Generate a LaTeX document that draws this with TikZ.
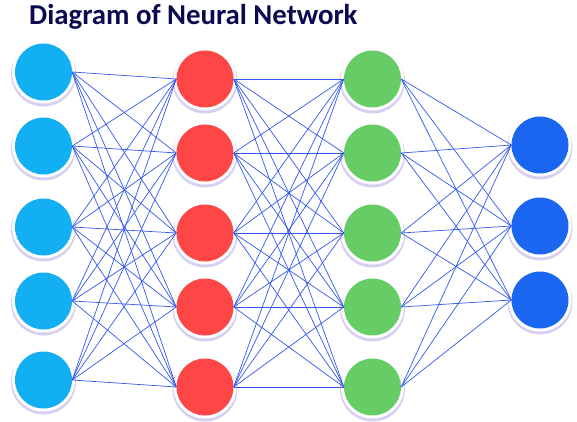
\documentclass[tikz,border=0pt]{standalone}
\usepackage{fontspec}
\setmainfont{Carlito}
\definecolor{cyanN}{HTML}{12B0F2}
\definecolor{redN}{HTML}{FF4646}
\definecolor{greenN}{HTML}{66CC66}
\definecolor{blueN}{HTML}{1A66F0}
\definecolor{edgeC}{HTML}{3358EE}
\definecolor{titleC}{HTML}{0A0A50}
\definecolor{shadowC}{HTML}{D6CFF2}
\begin{document}
\begin{tikzpicture}[x=1pt,y=-1pt,
  neuron/.style={circle,minimum size=57pt,inner sep=0pt,draw=none},
  edge/.style={edgeC,line width=0.7pt}]
\useasboundingbox (0,0) rectangle (577,422);
\fill[white] (0,0) rectangle (577,422);
\node[anchor=base west,text=titleC,font=\fontsize{28.8}{31}\selectfont\bfseries,inner sep=0pt] (title) at (29,25) {Diagram of Neural Network};
% layers
\def\drawneuron#1#2#3#4{%
  \fill[shadowC] (#2,#3+2) circle (32.5);
  \fill[white] (#2,#3) circle (31.5);
  \node[neuron,fill=#4] (#1) at (#2,#3) {};}
\foreach \y [count=\i] in {72,146,227,301,380} {\drawneuron{a\i}{43.5}{\y}{cyanN}}
\foreach \y [count=\i] in {79,153,233,307,387} {\drawneuron{b\i}{205}{\y}{redN}}
\foreach \y [count=\i] in {79,153,233,307,387} {\drawneuron{c\i}{372.5}{\y}{greenN}}
\foreach \y [count=\i] in {145,226,300} {\drawneuron{d\i}{540}{\y}{blueN}}
\foreach \i in {1,...,5} {\foreach \j in {1,...,5} {\draw[edge] (a\i.east) -- (b\j.west);}}
\foreach \i in {1,...,5} {\foreach \j in {1,...,5} {\draw[edge] (b\i.east) -- (c\j.west);}}
\foreach \i in {1,...,5} {\foreach \j in {1,...,3} {\draw[edge] (c\i.east) -- (d\j.west);}}
\end{tikzpicture}
\end{document}
